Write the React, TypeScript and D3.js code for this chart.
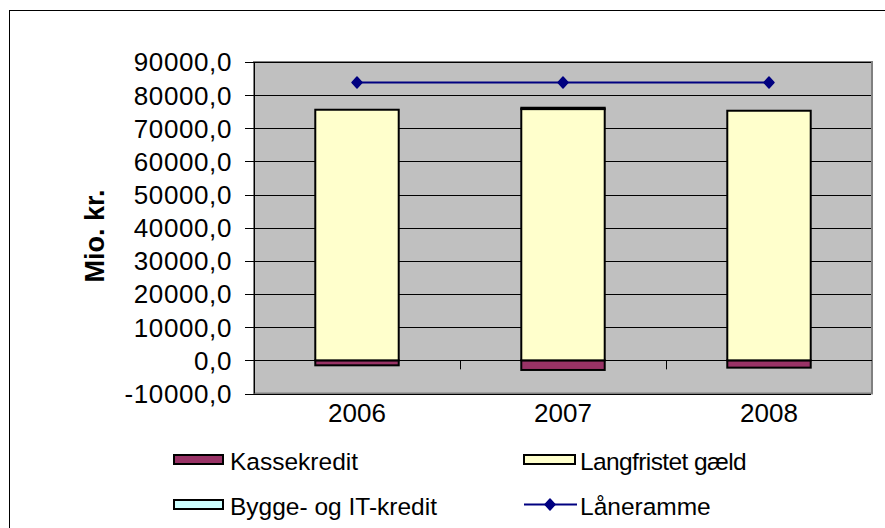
import React from "react";
import * as d3 from "d3";

const years = ["2006", "2007", "2008"];
const kassekredit = [-1500, -2900, -2200];
const langfristet = [75600, 75800, 75300];
const bygge = [0, 400, 0];
const laaneramme = [83800, 83800, 83800];
const yTicks = [-10000, 0, 10000, 20000, 30000, 40000, 50000, 60000, 70000, 80000, 90000];

const seriesNames = ["Kassekredit", "Langfristet gæld", "Bygge- og IT-kredit"];
const seriesColors = ["#993366", "#FFFFCC", "#CCFFFF"];

export default function App() {
  const W = 885, H = 528;
  const left = 254, right = 872, top = 62, bottom = 393.5;
  const x = d3.scaleBand<string>().domain(years).range([left, right]).padding(0);
  const y = d3.scaleLinear().domain([-10000, 90000]).range([bottom, top]);
  const barW = x.step() * 0.405;

  const rows = years.map((yr, i) => ({ year: yr, k: kassekredit[i], l: langfristet[i], b: bygge[i] }));
  const stack = d3.stack<any>().keys(["k", "l", "b"]).offset(d3.stackOffsetDiverging);
  const stacked = stack(rows);

  const fmt = (v: number) => d3.format(".1f")(v).replace(".", ",").replace("\u2212", "-");
  const cx = (yr: string) => (x(yr) as number) + x.bandwidth() / 2;
  const linePath = d3.line<number>().x((_, i) => cx(years[i])).y((d) => y(d))(laaneramme) || "";
  const diamond = "M0,-5.5L5,0L0,5.5L-5,0Z";

  const font = "'Liberation Sans', Arial, sans-serif";

  return (
    <svg width={W} height={H} style={{ position: "absolute", left: 0, top: 0, background: "#fff" }}>
      <rect x={0} y={0} width={W} height={H} fill="#ffffff" />
      <rect x={9.5} y={10.5} width={W + 20} height={H + 20} fill="none" stroke="#000" strokeWidth={1} />
      {/* plot area */}
      <rect x={left} y={top} width={right - left} height={bottom - top} fill="#C0C0C0" stroke="#808080" strokeWidth={2} />
      {yTicks.map((t) => (
        <line key={"g" + t} x1={left} x2={right - 1} y1={Math.round(y(t)) + 0.5} y2={Math.round(y(t)) + 0.5} stroke="#000" strokeWidth={1} />
      ))}
      {/* bars */}
      {stacked.map((s, si) =>
        s.map((d, i) => {
          const y0 = y(d[0]), y1 = y(d[1]);
          const h = Math.abs(y0 - y1);
          if (h < 0.01) return null;
          return (
            <rect key={si + "-" + i} x={cx(years[i]) - barW / 2} y={Math.min(y0, y1)} width={barW} height={h}
              fill={seriesColors[si]} stroke="#000" strokeWidth={2} />
          );
        })
      )}
      {/* y axis */}
      <line x1={left + 0.5} x2={left + 0.5} y1={top} y2={bottom} stroke="#000" strokeWidth={1} />
      {yTicks.map((t) => (
        <g key={"t" + t}>
          <line x1={left - 9} x2={left} y1={Math.round(y(t)) + 0.5} y2={Math.round(y(t)) + 0.5} stroke="#000" strokeWidth={1} />
          <text x={232} y={y(t)} dy="0.36em" textAnchor="end" fontFamily={font} fontSize={26} letterSpacing={0.6} fill="#000">{fmt(t)}</text>
        </g>
      ))}
      {/* x axis at zero */}
      <line x1={left} x2={right} y1={Math.round(y(0)) + 0.5} y2={Math.round(y(0)) + 0.5} stroke="#000" strokeWidth={1} />
      {years.slice(1).map((yr) => (
        <line key={"xt" + yr} x1={Math.round(x(yr) as number) + 0.5} x2={Math.round(x(yr) as number) + 0.5}
          y1={y(0)} y2={y(0) + 9} stroke="#000" strokeWidth={1} />
      ))}
      {years.map((yr) => (
        <text key={"xl" + yr} x={cx(yr)} y={413} dy="0.36em" textAnchor="middle" fontFamily={font} fontSize={26} fill="#000">{yr}</text>
      ))}
      {/* line */}
      <path d={linePath} fill="none" stroke="#000080" strokeWidth={2} />
      {laaneramme.map((v, i) => (
        <path key={"m" + i} d={diamond} transform={`translate(${cx(years[i])},${y(v)})`} fill="#000080" stroke="#000080" strokeWidth={1.5} strokeLinejoin="round" />
      ))}
      {/* y title */}
      <text transform="translate(104,236) rotate(-90)" textAnchor="middle" fontFamily={font} fontSize={27} fontWeight="bold" fill="#000">Mio. kr.</text>
      {/* legend */}
      <rect x={174} y={455} width={49} height={9} fill={seriesColors[0]} stroke="#000" strokeWidth={2} />
      <text x={230} y={470} fontFamily={font} fontSize={24.5} fill="#000">{seriesNames[0]}</text>
      <rect x={524} y={455} width={51} height={9} fill={seriesColors[1]} stroke="#000" strokeWidth={2} />
      <text x={580} y={470} fontFamily={font} fontSize={24.5} fill="#000" letterSpacing={-0.6}>Langfristet gæld</text>
      <rect x={174} y={500} width={49} height={9} fill={seriesColors[2]} stroke="#000" strokeWidth={2} />
      <text x={230} y={515} fontFamily={font} fontSize={24.5} fill="#000">{seriesNames[2]}</text>
      <line x1={524} x2={577} y1={504.5} y2={504.5} stroke="#000080" strokeWidth={2} />
      <path d={diamond} transform="translate(550,504.5)" fill="#000080" stroke="#000080" strokeWidth={1.5} strokeLinejoin="round" />
      <text x={580} y={515} fontFamily={font} fontSize={24.5} fill="#000">Låneramme</text>
    </svg>
  );
}
